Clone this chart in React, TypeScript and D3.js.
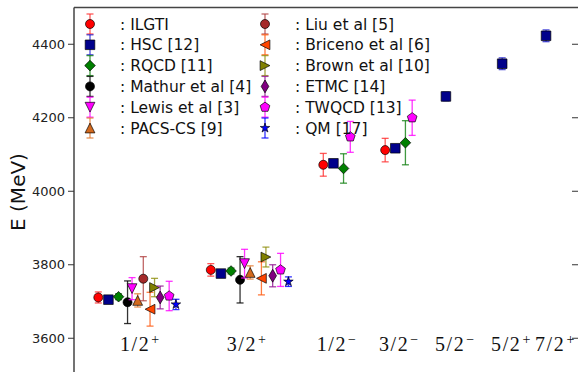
import React from "react";
import * as d3 from "d3";

// ---------- data ----------
const yTicks = [3600, 3800, 4000, 4200, 4400];

const categoryBase = ["1/2", "3/2", "1/2", "3/2", "5/2", "5/2", "7/2"];
const categorySign = ["+", "+", "\u2212", "\u2212", "\u2212", "+", "+"];
const categoryLabelX = [0.193, 1.141, 1.941, 2.495, 2.993, 3.491, 3.882];
const categoryLabelE = 3565;

const seriesNames = [
  "ILGTI", "HSC [12]", "RQCD [11]", "Mathur et al [4]", "Lewis et al [3]", "PACS-CS [9]",
  "Liu et al [5]", "Briceno et al [6]", "Brown et al [10]", "ETMC [14]", "TWQCD [13]", "QM [17]",
];
const seriesMarkers = [
  "circle", "square", "diamond", "circle", "triDown", "triUp",
  "circle", "triLeft", "triRight", "thinDiamond", "pentagon", "star",
];
const seriesFill = [
  "#ff0000", "#00008b", "#008000", "#000000", "#ff00ff", "#d2691e",
  "#a52a2a", "#ff4500", "#808000", "#800080", "#ff00ff", "#0000ff",
];
const seriesErrColor = [
  "#ff3030", "#2020d0", "#108010", "#000000", "#ff00ff", "#e07830",
  "#b04040", "#ff5a10", "#909010", "#901090", "#ff00ff", "#0000ff",
];
const seriesX = [
  [0, 1.0, 2.0, 2.55],
  [0.09, 1.09, 2.09, 2.64, 3.09, 3.59, 3.98],
  [0.18, 1.18, 2.18, 2.73],
  [0.26, 1.26],
  [0.3, 1.3],
  [0.35, 1.35],
  [0.4],
  [0.46, 1.45],
  [0.5, 1.49],
  [0.55, 1.55],
  [0.63, 1.62, 2.24, 2.79],
  [0.69, 1.69],
];
const seriesE = [
  [3711, 3786, 4072, 4112],
  [3705, 3776, 4076, 4117, 4258, 4347, 4423],
  [3713, 3783, 4062, 4132],
  [3698, 3759],
  [3735, 3803],
  [3703, 3779],
  [3762],
  [3679, 3763],
  [3738, 3821],
  [3711, 3770],
  [3715, 3786, 4148, 4200],
  [3692, 3754],
];
const seriesErr = [
  [15, 17, 31, 32],
  [8, 8, 8, 8, 12, 16, 16],
  [8, 8, 40, 60],
  [58, 63],
  [30, 39],
  [18, 18],
  [60],
  [46, 45],
  [25, 27],
  [31, 30],
  [40, 45, 42, 48],
  [14, 13],
];

// ---------- styles ----------
const W = 578;
const H = 372;
const markerRadius: Record<string, number> = {
  circle: 4.5, square: 4.8, diamond: 5.3, thinDiamond: 6.4, triUp: 4.9, triDown: 4.9,
  triLeft: 4.9, triRight: 4.9, pentagon: 5.1, star: 5.0,
};

function makeType(kind: string) {
  return {
    draw(ctx: any, size: number) {
      const r = Math.sqrt(size);
      const poly = (pts: number[][]) => {
        ctx.moveTo(pts[0][0], pts[0][1]);
        for (let i = 1; i < pts.length; i++) ctx.lineTo(pts[i][0], pts[i][1]);
        ctx.closePath();
      };
      switch (kind) {
        case "circle":
          ctx.moveTo(r, 0);
          ctx.arc(0, 0, r, 0, 2 * Math.PI);
          break;
        case "square":
          poly([[-r, -r], [r, -r], [r, r], [-r, r]]);
          break;
        case "diamond":
          poly([[0, -r], [r, 0], [0, r], [-r, 0]]);
          break;
        case "thinDiamond":
          poly([[0, -r], [0.6 * r, 0], [0, r], [-0.6 * r, 0]]);
          break;
        case "triUp":
          poly([[0, -r], [r, r], [-r, r]]);
          break;
        case "triDown":
          poly([[0, r], [r, -r], [-r, -r]]);
          break;
        case "triLeft":
          poly([[-r, 0], [r, -r], [r, r]]);
          break;
        case "triRight":
          poly([[r, 0], [-r, -r], [-r, r]]);
          break;
        case "pentagon": {
          const pts = d3.range(5).map((k) => {
            const a = -Math.PI / 2 + (k * 2 * Math.PI) / 5;
            return [r * Math.cos(a), r * Math.sin(a)];
          });
          poly(pts);
          break;
        }
        case "star": {
          const pts = d3.range(10).map((k) => {
            const a = -Math.PI / 2 + (k * Math.PI) / 5;
            const rr = k % 2 === 0 ? r : r * 0.382;
            return [rr * Math.cos(a), rr * Math.sin(a)];
          });
          poly(pts);
          break;
        }
      }
    },
  };
}

function markerPath(kind: string) {
  const r = markerRadius[kind];
  return d3.symbol().type(makeType(kind) as any).size(r * r)() as string;
}

const Marker = ({ x, y, kind, fill }: any) => (
  <path d={markerPath(kind)} transform={`translate(${x},${y})`} fill={fill} stroke="#000" strokeWidth={0.8} strokeOpacity={0.85} />
);

const ErrBar = ({ x, y0, y1, color }: any) => (
  <g stroke={color} strokeWidth={1.3} strokeOpacity={0.8}>
    <line x1={x} x2={x} y1={y0} y2={y1} />
    <line x1={x - 3.5} x2={x + 3.5} y1={y0} y2={y0} />
    <line x1={x - 3.5} x2={x + 3.5} y1={y1} y2={y1} />
  </g>
);

export default function App() {
  const left = 74;
  const top = 7.5;
  const x = d3.scaleLinear().domain([-0.216, 4.264]).range([left, W]);
  const y = d3.scaleLinear().domain([3500, 4500]).range([375, top]);

  const sans = "'DejaVu Sans', sans-serif";
  const serif = "'Liberation Serif', 'Times New Roman', serif";

  return (
    <svg width={W} height={H} style={{ position: "absolute", left: 0, top: 0 }} xmlns="http://www.w3.org/2000/svg">
      <rect x={0} y={0} width={W} height={H} fill="#fff" />
      {/* spines */}
      <line x1={left} x2={left} y1={top} y2={H} stroke="#444" strokeWidth={1.5} />
      <line x1={left} x2={W} y1={top} y2={top} stroke="#444" strokeWidth={1.5} />
      {/* y ticks */}
      {yTicks.map((t) => (
        <g key={t}>
          <line x1={left - 6} x2={left} y1={y(t)} y2={y(t)} stroke="#333" strokeWidth={1} />
          <line x1={W - 6} x2={W} y1={y(t)} y2={y(t)} stroke="#333" strokeWidth={1} />
          <text x={left - 9} y={y(t)} dy="0.36em" textAnchor="end" fontFamily={sans} fontSize={13} fill="#222">
            {t}
          </text>
        </g>
      ))}
      <text
        transform={`translate(25,${192}) rotate(-90)`}
        textAnchor="middle"
        fontFamily={sans}
        fontSize={20}
        fill="#111"
      >
        E (MeV)
      </text>

      {/* category labels */}
      {categoryBase.map((c, i) => (
        <text key={i} x={x(categoryLabelX[i])} y={y(categoryLabelE)} fontFamily={serif} fontSize={20} fill="#111">
          <tspan letterSpacing={1.6}>{c}</tspan>
          <tspan fontSize={14} dy={-7.5} dx={1}>
            {categorySign[i]}
          </tspan>
        </text>
      ))}

      {/* data */}
      {seriesNames.map((name, s) => (
        <g key={name}>
          {seriesE[s].map((e, i) => {
            const px = x(seriesX[s][i]);
            const err = seriesErr[s][i];
            return (
              <g key={i}>
                <ErrBar x={px} y0={y(e + err)} y1={y(e - err)} color={seriesErrColor[s]} />
                <Marker x={px} y={y(e)} kind={seriesMarkers[s]} fill={seriesFill[s]} />
              </g>
            );
          })}
        </g>
      ))}

      {/* legend */}
      {seriesNames.map((name, s) => {
        const col = Math.floor(s / 6);
        const row = s % 6;
        const mx = col === 0 ? 90 : 265;
        const tx = col === 0 ? 120 : 295;
        const my = 24 + row * 20.8;
        return (
          <g key={name}>
            <ErrBar x={mx} y0={my - 10} y1={my + 10} color={seriesErrColor[s]} />
            <Marker x={mx} y={my} kind={seriesMarkers[s]} fill={seriesFill[s]} />
            <text x={tx} y={my} dy="0.36em" fontFamily={sans} fontSize={15.5} fill="#111">
              : {name}
            </text>
          </g>
        );
      })}
    </svg>
  );
}
